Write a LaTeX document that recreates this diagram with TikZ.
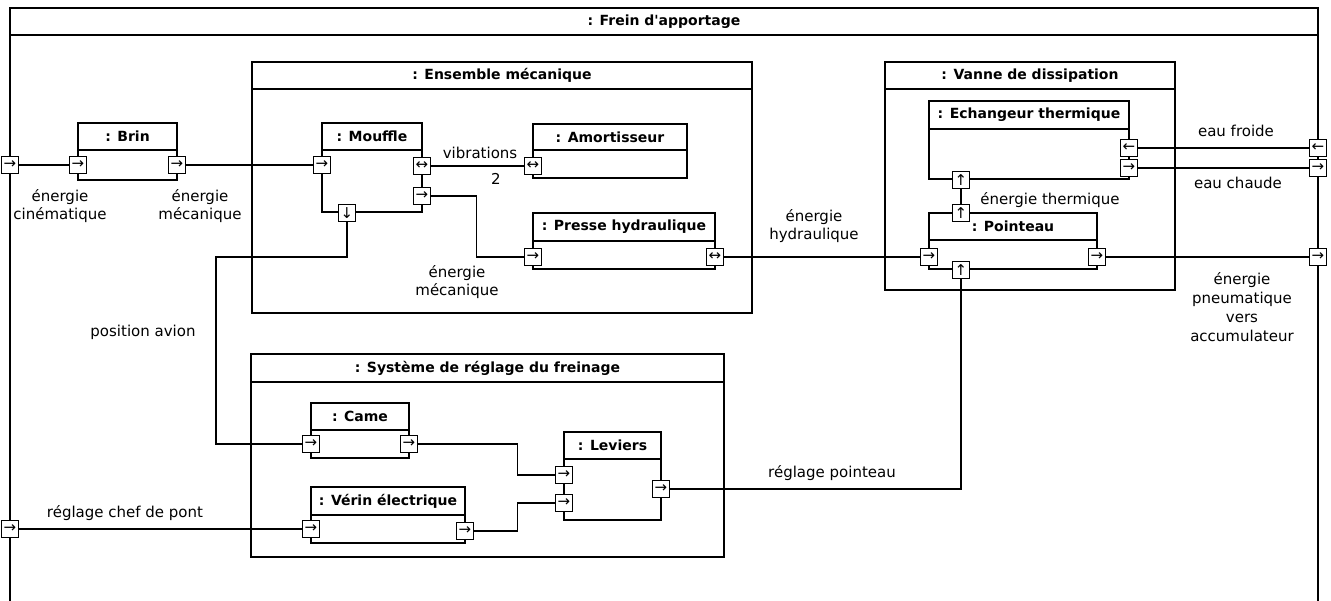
\documentclass[tikz,border=0pt]{standalone}
\usepackage{fontspec}
\setmainfont{DejaVu Sans}[Ligatures=TeXOff]
\usetikzlibrary{fit}
\tikzset{
  box/.style={draw, inner sep=0pt, line width=1.2pt},
  ttl/.style={font=\bfseries\fontsize{14}{16}\selectfont, inner sep=0pt},
  lbl/.style={font=\fontsize{15}{18.8}\selectfont, align=center, inner sep=0pt},
  port/.style={draw, fill=white, line width=1.2pt, minimum size=17pt, inner sep=0pt, font=\fontsize{15}{15}\selectfont},
  conn/.style={line width=1.2pt}
}
\newcommand\mypart[7]{%
  \node[box, fit={(#2,#3) (#4,#5)}] (#1) {};
  \draw[line width=1.2pt] (#2,#6) -- (#4,#6);
  \node[ttl] at ({(#2+#4)/2},{(#3+#6)/2}) {#7};
}
\begin{document}
\begin{tikzpicture}[x=1pt,y=-1pt]
\useasboundingbox (0,0) rectangle (1331,601);
% outer frame
\draw[line width=1.2pt] (10,601) -- (10,8) -- (1318,8) -- (1318,601);
\draw[line width=1.2pt] (10,35) -- (1318,35);
\node[ttl] (frein) at (664,21.5) {: Frein d'apportage};

% parts
\mypart{ensemble}{252}{62}{752}{313}{89}{: Ensemble mécanique}
\mypart{vanne}{885}{62}{1175}{290}{89}{: Vanne de dissipation}
\mypart{systeme}{251}{354}{724}{557}{382}{: Système de réglage du freinage}
\mypart{brin}{78}{123}{177}{180}{150}{: Brin}
\mypart{mouffle}{322}{123}{422}{212}{150}{: Mouffle}
\mypart{amort}{533}{124}{687}{178}{150}{: Amortisseur}
\mypart{presse}{533}{213}{715}{269}{241}{: Presse hydraulique}
\mypart{echang}{929}{101}{1129}{179}{129}{: Echangeur thermique}
\mypart{pointeau}{929}{213}{1097}{269}{240}{: Pointeau}
\mypart{came}{311}{403}{409}{458}{430}{: Came}
\mypart{verin}{311}{487}{465}{543}{515}{: Vérin électrique}
\mypart{leviers}{564}{432}{661}{520}{459}{: Leviers}

% ports
\node[port] (fL1) at (10,165) {→};
\node[port] (fL2) at (10,529) {→};
\node[port] (fR1) at (1318,148) {←};
\node[port] (fR2) at (1318,168) {→};
\node[port] (fR3) at (1318,257) {→};
\node[port] (brinL) at (78,165) {→};
\node[port] (brinR) at (177,165) {→};
\node[port] (moufL) at (322,165) {→};
\node[port] (moufR1) at (422,166) {↔};
\node[port] (moufR2) at (422,196) {→};
\node[port] (moufB) at (347,213) {↓};
\node[port] (amorL) at (533,166) {↔};
\node[port] (presL) at (533,257) {→};
\node[port] (presR) at (715,257) {↔};
\node[port] (pointL) at (929,257) {→};
\node[port] (pointR) at (1097,257) {→};
\node[port] (pointT) at (961,213) {↑};
\node[port] (pointB) at (961,270) {↑};
\node[port] (echR1) at (1129,148) {←};
\node[port] (echR2) at (1129,168) {→};
\node[port] (echB) at (961,180) {↑};
\node[port] (cameL) at (311,444) {→};
\node[port] (cameR) at (409,444) {→};
\node[port] (verL) at (311,529) {→};
\node[port] (verR) at (465,531) {→};
\node[port] (levL1) at (564,475) {→};
\node[port] (levL2) at (564,503) {→};
\node[port] (levR) at (661,489) {→};

% connectors
\coordinate (pa1) at (216,257);
\draw[conn] (fL1.east) -- (brinL.west);
\draw[conn] (brinR.east) -- (moufL.west);
\draw[conn] (moufR1.east) -- (amorL.west);
\draw[conn] (moufR2.east) -- ++(45.5,0) |- (presL.west);
\draw[conn] (moufB.south) |- (pa1) |- (cameL.west);
\draw[conn] (presR.east) -- (pointL.west);
\draw[conn] (pointT.north) -- (echB.south);
\draw[conn] (echR1.east) -- (fR1.west);
\draw[conn] (echR2.east) -- (fR2.west);
\draw[conn] (pointR.east) -- (fR3.west);
\draw[conn] (levR.east) -| (pointB.south);
\draw[conn] (cameR.east) -- ++(99.5,0) |- (levL1.west);
\draw[conn] (verR.east) -- ++(43.5,0) |- (levL2.west);
\draw[conn] (fL2.east) -- (verL.west);

% labels
\node[lbl] at (60,206) {énergie\\cinématique};
\node[lbl] at (200,206) {énergie\\mécanique};
\node[lbl] at (480,153) {vibrations};
\node[lbl] at (496,179) {2};
\node[lbl] at (457,282) {énergie\\mécanique};
\node[lbl] at (814,226) {énergie\\hydraulique};
\node[lbl] at (1050,200) {énergie thermique};
\node[lbl] at (1236,131) {eau froide};
\node[lbl] at (1238,183) {eau chaude};
\node[lbl] at (1242,307) {énergie\\pneumatique\\vers\\accumulateur};
\node[lbl] at (143,332) {position avion};
\node[lbl] at (125,513) {réglage chef de pont};
\node[lbl] at (832,473) {réglage pointeau};
\end{tikzpicture}
\end{document}
